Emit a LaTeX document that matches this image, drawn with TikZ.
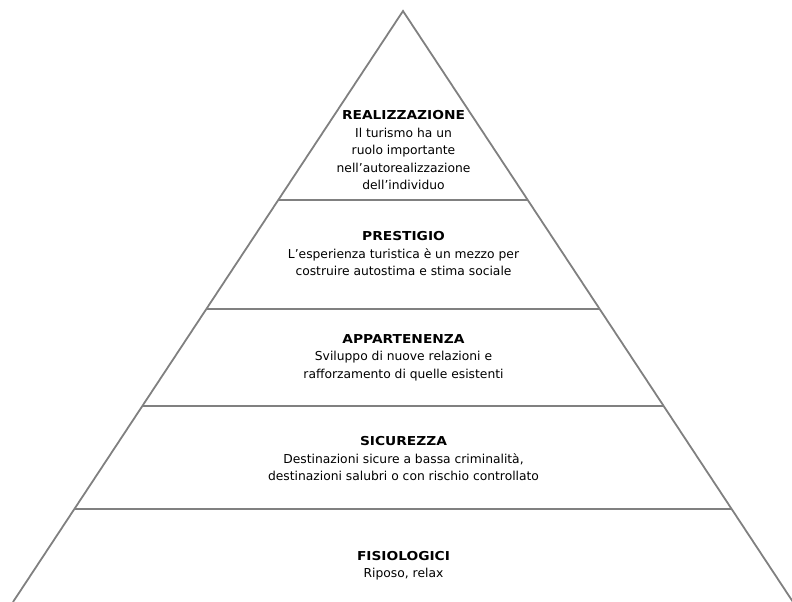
\documentclass[tikz,border=0pt]{standalone}
\usepackage{fontspec}
\setmainfont{DejaVu Sans}
\newfontfamily\lvltitlefont[FakeStretch=1.12]{DejaVu Sans Bold}
\newcommand{\lvltitle}[1]{{\lvltitlefont #1}}
\begin{document}
\begin{tikzpicture}[x=1pt,y=-1pt,
  edge/.style={draw=black!50, line width=1.8pt},
  level/.style={align=center, inner sep=0pt, font=\fontsize{12.3}{17.5}\selectfont, text=black}]
\useasboundingbox (0,0) rectangle (792,602);
\coordinate (apex) at (403,11);
\coordinate (bl) at (13,602);
\coordinate (br) at (793,602);
\draw[edge] (bl) -- (apex) -- (br);
% dividers
\coordinate (l1) at (278.3,200); \coordinate (r1) at (527.7,200);
\coordinate (l2) at (206.3,309); \coordinate (r2) at (599.7,309);
\coordinate (l3) at (142.3,406); \coordinate (r3) at (663.7,406);
\coordinate (l4) at (74.3,509);  \coordinate (r4) at (731.7,509);
\draw[edge] (l1) -- (r1);
\draw[edge] (l2) -- (r2);
\draw[edge] (l3) -- (r3);
\draw[edge] (l4) -- (r4);
\node[level] (real) at (403.5,150.5) {\lvltitle{REALIZZAZIONE}\\Il turismo ha un\\ruolo importante\\nell’autorealizzazione\\dell’individuo};
\node[level] (prest) at (403.5,253.7) {\lvltitle{PRESTIGIO}\\L’esperienza turistica è un mezzo per\\costruire autostima e stima sociale};
\node[level] (app) at (403.5,357.5) {\lvltitle{APPARTENENZA}\\Sviluppo di nuove relazioni e\\rafforzamento di quelle esistenti};
\node[level] (sic) at (403.5,459) {\lvltitle{SICUREZZA}\\Destinazioni sicure a bassa criminalità,\\destinazioni salubri o con rischio controllato};
\node[level] (fis) at (403.5,565.7) {\lvltitle{FISIOLOGICI}\\Riposo, relax};
\end{tikzpicture}
\end{document}
